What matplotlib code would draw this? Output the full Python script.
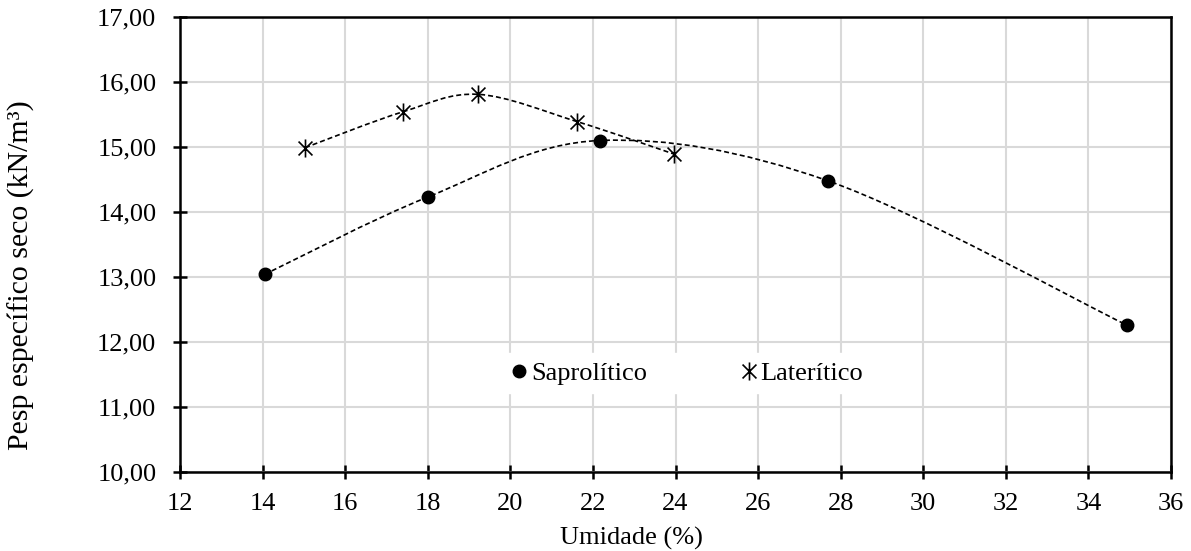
import matplotlib.pyplot as plt
from matplotlib.path import Path
from matplotlib.patches import PathPatch
from matplotlib.ticker import FuncFormatter

# dados
umid_sap = [14.05, 18.0, 22.17, 27.69, 34.93]
peso_sap = [13.04, 14.23, 15.10, 14.48, 12.26]
umid_lat = [15.03, 17.39, 19.22, 21.62, 23.97]
peso_lat = [14.99, 15.54, 15.81, 15.39, 14.89]

plt.rcParams['font.family'] = ['Liberation Serif', 'DejaVu Serif']

# estrela do Excel: X com traco vertical
star = Path([(-1, -1), (1, 1), (-1, 1), (1, -1), (0, -1.3), (0, 1.3)],
            [Path.MOVETO, Path.LINETO, Path.MOVETO, Path.LINETO, Path.MOVETO, Path.LINETO])


def suave(ax, xs, ys):
    # curva suavizada tipo Excel (bezier com pontos de controle catmull-rom)
    pts = list(zip(xs, ys))
    verts = [pts[0]]
    codes = [Path.MOVETO]
    n = len(pts)
    for i in range(n - 1):
        p0 = pts[i - 1] if i > 0 else pts[i]
        p1 = pts[i]
        p2 = pts[i + 1]
        p3 = pts[i + 2] if i + 2 < n else pts[i + 1]
        c1 = (p1[0] + (p2[0] - p0[0]) / 6, p1[1] + (p2[1] - p0[1]) / 6)
        c2 = (p2[0] - (p3[0] - p1[0]) / 6, p2[1] - (p3[1] - p1[1]) / 6)
        verts += [c1, c2, p2]
        codes += [Path.CURVE4] * 3
    ax.add_patch(PathPatch(Path(verts, codes), fill=False, edgecolor='black',
                           lw=1.2, linestyle=(0, (3, 1.8)), zorder=3))


fig = plt.figure(figsize=(11.91, 5.51), dpi=100)
ax = fig.add_axes([180 / 1191, 1 - 472 / 551, 991 / 1191, 455 / 551])

suave(ax, umid_sap, peso_sap)
suave(ax, umid_lat, peso_lat)
ax.plot(umid_sap, peso_sap, 'o', color='black', ms=9, label='Saprolítico', zorder=4)
ax.plot(umid_lat, peso_lat, linestyle='none', marker=star, color='black', ms=13,
        mew=1.2, label='Laterítico', zorder=4)

ax.set_xlim(12, 36)
ax.set_ylim(10, 17)
ax.set_xticks(range(12, 37, 2))
ax.set_yticks(range(10, 18))
ax.yaxis.set_major_formatter(FuncFormatter(lambda v, p: f'{v:.2f}'.replace('.', ',')))
ax.grid(True, color='#d9d9d9', lw=1.5, zorder=0)
ax.set_axisbelow(True)
for s in ax.spines.values():
    s.set_linewidth(1.8)
ax.tick_params(direction='inout', length=10, width=1.8, labelsize=19)
ax.tick_params(axis='y', pad=12)
ax.tick_params(axis='x', pad=10)

ax.set_xlabel('Umidade (%)', fontsize=19, va='top')
ax.xaxis.set_label_coords(0.456, -0.121)
ax.set_ylabel('Pesp específico seco (kN/m³)', fontsize=21.5)
ax.yaxis.set_label_coords(-0.146, 0.433)

leg = ax.legend(loc='center', bbox_to_anchor=((684 - 180) / 991, (472 - 373) / 455),
                ncol=2, frameon=True, fontsize=19, handletextpad=-0.1, columnspacing=3.3,
                handlelength=1.1, borderpad=0.3)
leg.get_frame().set_edgecolor('white')
leg.get_frame().set_facecolor('white')
leg.get_frame().set_alpha(1)

fig.savefig('out.png', dpi=100)
